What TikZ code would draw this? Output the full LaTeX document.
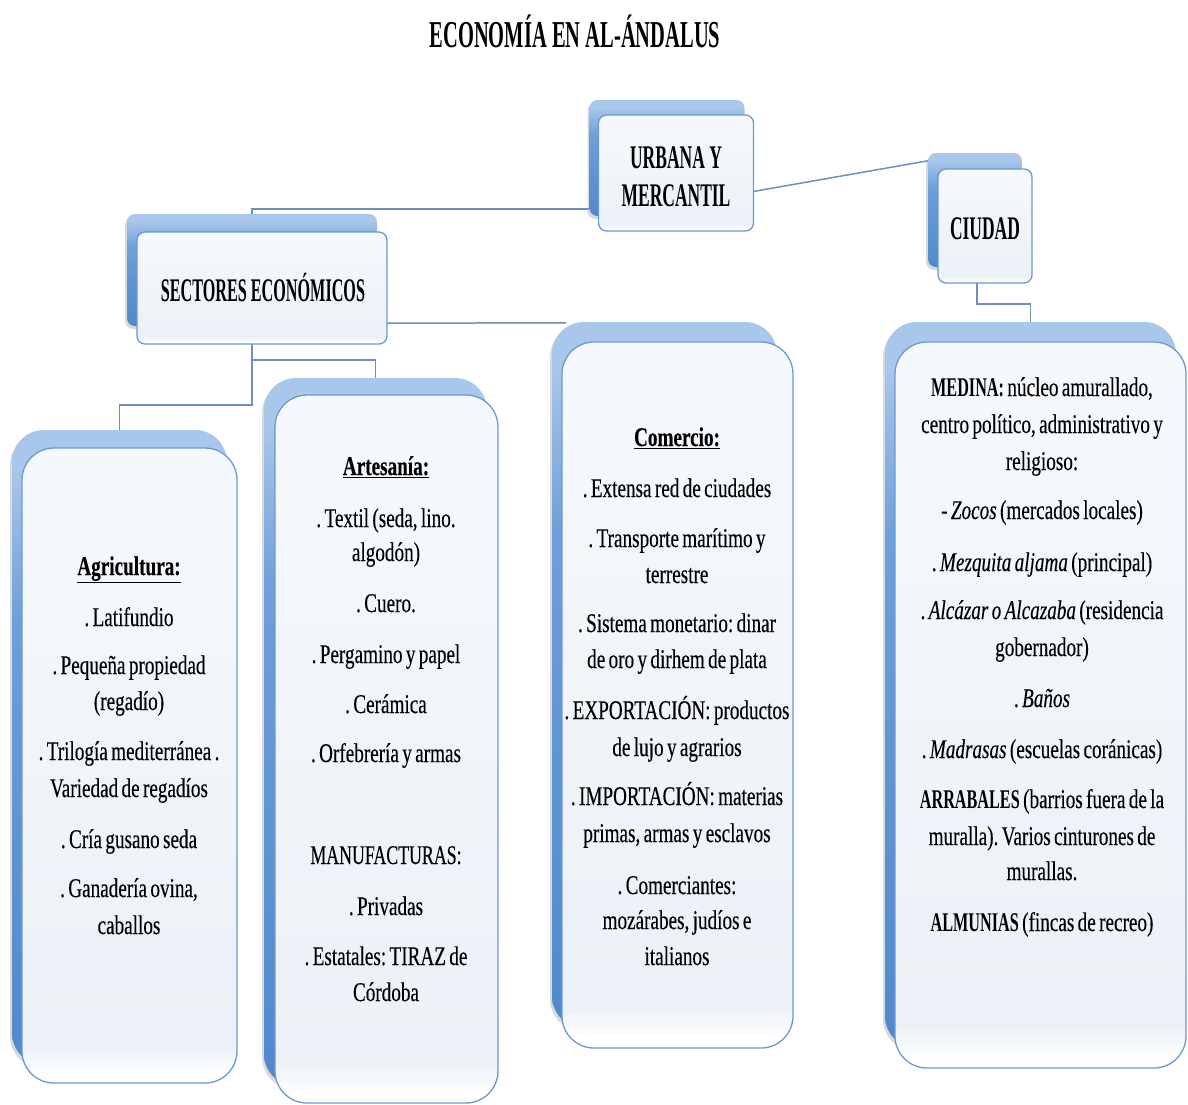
\documentclass[tikz,border=0pt]{standalone}
\usepackage{fontspec}
\usetikzlibrary{shadows}
\newfontfamily\fbody{Liberation Serif}[FakeStretch=0.71, WordSpace=0.7, FakeBold=0.25]
\newfontfamily\fbcaps{Liberation Serif}[FakeStretch=0.60, WordSpace=0.7]
\newfontfamily\fhead{Liberation Serif}[FakeStretch=0.53]
\newfontfamily\fheadb{Liberation Serif}[FakeStretch=0.49]
\newfontfamily\ftitle{Liberation Serif}[FakeStretch=0.54]
\newcommand\bcaps[1]{{\fbcaps\bfseries #1}}
\newcommand\uhead[1]{\underline{\bfseries #1}}
\definecolor{sl}{HTML}{A9C7EA}
\definecolor{sm}{HTML}{6E9FD8}
\definecolor{sd}{HTML}{5089CB}
\definecolor{ftop}{HTML}{F5F8FC}
\definecolor{fmid}{HTML}{ECF1F7}
\definecolor{fb}{HTML}{6A99D3}
\definecolor{cl}{HTML}{6E8FBD}
\pgfdeclareverticalshading{shadowblue}{100bp}{color(0bp)=(sd); color(25bp)=(sd); color(60bp)=(sm); color(72bp)=(sl); color(100bp)=(sl)}
\pgfdeclareverticalshading{frontfill}{100bp}{color(0bp)=(white); color(25.5bp)=(white); color(28bp)=(fmid); color(70bp)=(ftop); color(100bp)=(ftop)}
\tikzset{
  shadowbox/.style={rectangle, rounded corners=#1, shade, shading=shadowblue,
    drop shadow={shadow xshift=-2pt,shadow yshift=-3pt,opacity=.3}, inner sep=0pt},
  shadowbox/.default=32pt,
  frontbox/.style={rectangle, rounded corners=#1, shade, shading=frontfill,
    draw=fb, line width=1.3pt, inner sep=0pt},
  frontbox/.default=32pt,
  conn/.style={draw=cl, line width=1.5pt},
  body/.style={anchor=base, inner sep=0pt, font=\fbody\fontsize{27pt}{36pt}\selectfont},
  headtxt/.style={anchor=base, inner sep=0pt, font=\fhead\bfseries\fontsize{33pt}{36pt}\selectfont},
  titletxt/.style={anchor=base, inner sep=0pt, font=\ftitle\bfseries\fontsize{38pt}{40pt}\selectfont}
}
\frenchspacing
\begin{document}
\begin{tikzpicture}[x=1pt,y=-1pt]
\useasboundingbox (0,0) rectangle (1188,1104);
% ---------- shadow boxes ----------
\node[shadowbox=8pt, minimum width=155pt, minimum height=116pt] (urbs) at (667,158) {};
\node[shadowbox=8pt, minimum width=94pt, minimum height=114pt] (cits) at (975,210) {};
\node[shadowbox=8pt, minimum width=250pt, minimum height=112pt] (secs) at (252,270) {};
\node[shadowbox, minimum width=215pt, minimum height=635pt] (agrs) at (119.5,747.5) {};
\node[shadowbox, minimum width=223pt, minimum height=708pt] (arts) at (375.5,732) {};
\node[shadowbox, minimum width=225pt, minimum height=706pt] (coms) at (664.5,675) {};
\node[shadowbox, minimum width=291pt, minimum height=726pt] (infs) at (1030.5,685) {};
% ---------- connectors ----------
\draw[conn] ([yshift=7pt]urbs.south west) -| (secs.north);
\draw[conn] ([yshift=-35pt]urbs.east) -- ([yshift=-8pt]cits.north west);
\draw[conn] (cits.south) ++(2,14) -- ++(0,23) -| (infs.north);
\draw[conn] ([yshift=3pt]secs.south east) -- ([xshift=14pt,yshift=-1pt]coms.north west);
\draw[conn] (secs.south) ++(0,-8) -- ++(0,87) -| (agrs.north);
\draw[conn] (secs.south) ++(0,34) -| (arts.north);
% ---------- front boxes ----------
\node[frontbox=8pt, minimum width=155pt, minimum height=116pt] (urbf) at (676,173) {};
\node[frontbox=8pt, minimum width=94pt, minimum height=114pt] (citf) at (985,226) {};
\node[frontbox=8pt, minimum width=250pt, minimum height=112pt] (secf) at (262,288) {};
\node[frontbox, minimum width=215pt, minimum height=635pt] (agrf) at (129.5,765.5) {};
\node[frontbox, minimum width=223pt, minimum height=708pt] (artf) at (386.5,749) {};
\node[frontbox, minimum width=231pt, minimum height=706pt] (comf) at (677.5,695) {};
\node[frontbox, minimum width=291pt, minimum height=726pt] (inff) at (1040.5,705) {};
% ---------- texts ----------
\node[titletxt] (title) at (575,47) {ECONOMÍA EN AL-ÁNDALUS};
\node[headtxt] (u1) at (676,168) {URBANA Y};
\node[headtxt] (u2) at (676,206) {MERCANTIL};
\node[headtxt, font=\fheadb\bfseries\fontsize{33pt}{36pt}\selectfont] (sec) at (263,301) {SECTORES ECONÓMICOS};
\node[headtxt] (ciu) at (985,239) {CIUDAD};
% Agricultura
\node[body] (a0) at (129,575) {\uhead{Agricultura:}};
\node[body] (a1) at (129,626) {. Latifundio};
\node[body] (a2) at (129,674) {. Pequeña propiedad};
\node[body] (a3) at (129,710) {(regadío)};
\node[body] (a4) at (129,760) {. Trilogía mediterránea .};
\node[body] (a5) at (129,797) {Variedad de regadíos};
\node[body] (a6) at (129,848) {. Cría gusano seda};
\node[body] (a7) at (129,897) {. Ganadería ovina,};
\node[body] (a8) at (129,934) {caballos};
% Artesania
\node[body] (b0) at (386,475) {\uhead{Artesanía:}};
\node[body] (b1) at (386,527) {. Textil (seda, lino.};
\node[body] (b2) at (386,561) {algodón)};
\node[body] (b3) at (386,612) {. Cuero.};
\node[body] (b4) at (386,663) {. Pergamino y papel};
\node[body] (b5) at (386,713) {. Cerámica};
\node[body] (b6) at (386,762) {. Orfebrería y armas};
\node[body] (b7) at (386,864) {\scalebox{0.93}[1]{MANUFACTURAS:}};
\node[body] (b8) at (386,915) {. Privadas};
\node[body] (b9) at (386,965) {. Estatales: TIRAZ de};
\node[body] (b10) at (386,1001) {Córdoba};
% Comercio
\node[body] (c0) at (677,446) {\uhead{Comercio:}};
\node[body] (c1) at (677,497) {. Extensa red de ciudades};
\node[body] (c2) at (677,547) {. Transporte marítimo y};
\node[body] (c3) at (677,583) {terrestre};
\node[body] (c4) at (677,632) {. Sistema monetario: dinar};
\node[body] (c5) at (677,668) {de oro y dirhem de plata};
\node[body] (c6) at (677,719) {. EXPORTACIÓN: productos};
\node[body] (c7) at (677,756) {de lujo y agrarios};
\node[body] (c8) at (677,805) {. IMPORTACIÓN: materias};
\node[body] (c9) at (677,842) {primas, armas y esclavos};
\node[body] (c10) at (677,894) {. Comerciantes:};
\node[body] (c11) at (677,929) {mozárabes, judíos e};
\node[body] (c12) at (677,965) {italianos};
% Ciudad
\node[body] (d0) at (1042,396) {\bcaps{MEDINA:} núcleo amurallado,};
\node[body] (d1) at (1042,433) {centro político, administrativo y};
\node[body] (d2) at (1042,470) {religioso:};
\node[body] (d3) at (1042,519) {- \textit{Zocos} (mercados locales)};
\node[body] (d4) at (1042,571) {. \textit{Mezquita aljama} (principal)};
\node[body] (d5) at (1042,619) {. \textit{Alcázar o Alcazaba} (residencia};
\node[body] (d6) at (1042,656) {gobernador)};
\node[body] (d7) at (1042,707) {. \textit{Baños}};
\node[body] (d8) at (1042,758) {. \textit{Madrasas} (escuelas coránicas)};
\node[body] (d9) at (1042,808) {\bcaps{ARRABALES} (barrios fuera de la};
\node[body] (d10) at (1042,845) {muralla). Varios cinturones de};
\node[body] (d11) at (1042,880) {murallas.};
\node[body] (d12) at (1042,931) {\bcaps{ALMUNIAS} (fincas de recreo)};
\end{tikzpicture}
\end{document}
